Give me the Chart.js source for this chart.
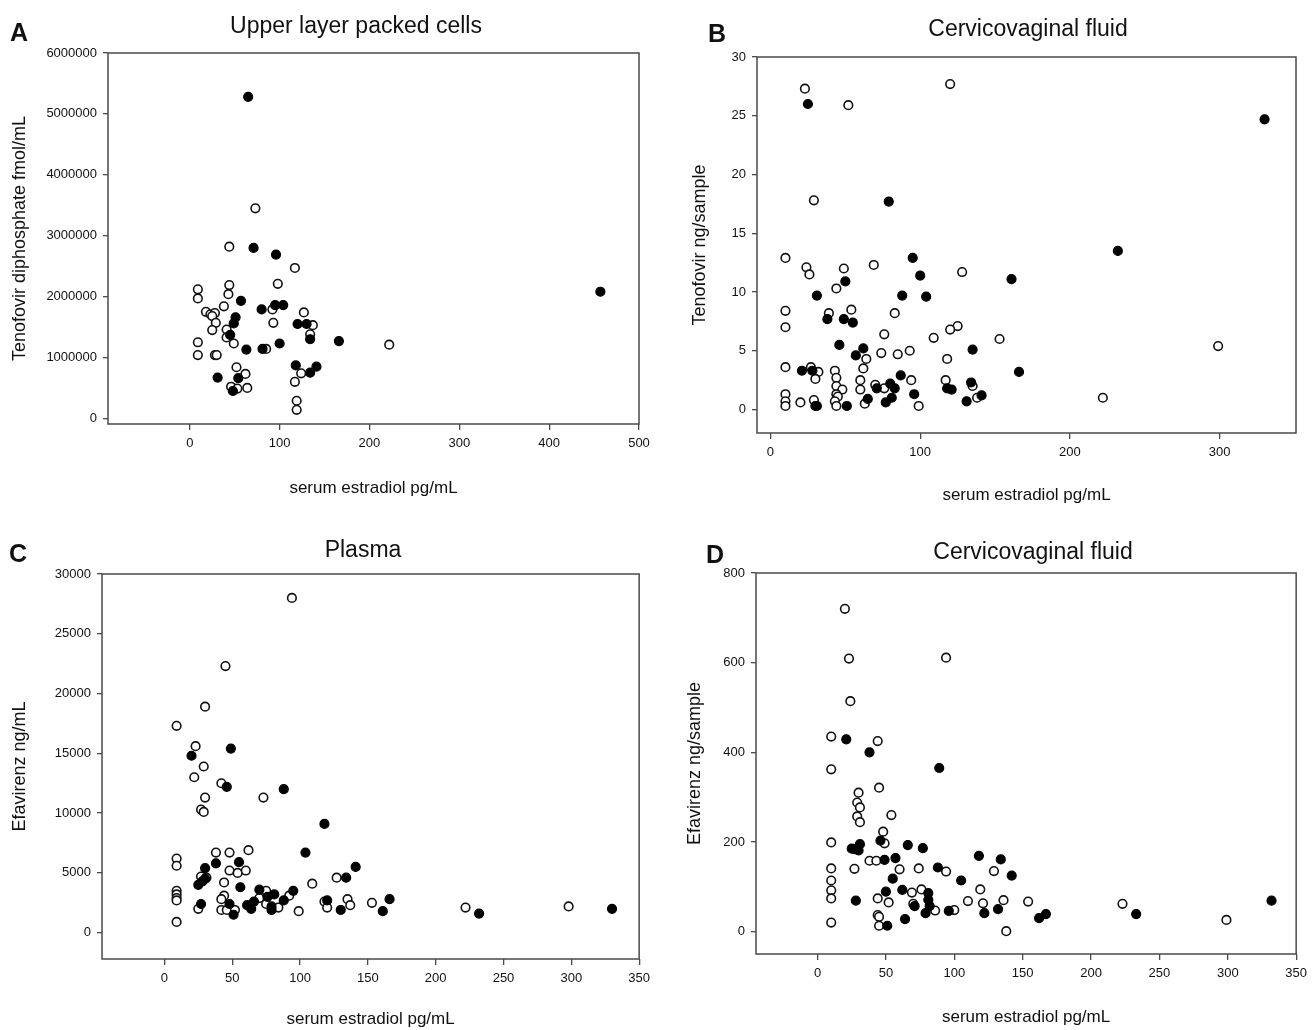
<!DOCTYPE html>
<html>
<head>
<meta charset="utf-8">
<script src="https://cdn.jsdelivr.net/npm/chart.js@4.4.1/dist/chart.umd.min.js"></script>
<style>
  html, body { margin: 0; padding: 0; background: #fff; }
  #wrap { position: relative; width: 1313px; height: 1030px; overflow: hidden; font-family: "Liberation Sans", Arial, sans-serif; }
  canvas { position: absolute; }
  .lbl { position: absolute; color: #111; white-space: nowrap; transform: translate(-50%, -50%); }
  .panel { font-weight: bold; font-size: 25px; }
  .ttl { font-size: 23px; }
</style>
</head>
<body>
<div id="wrap">
  <canvas id="cA" width="656" height="515" style="left:0px;top:0px;width:656px;height:515px"></canvas>
  <canvas id="cB" width="657" height="515" style="left:656px;top:0px;width:657px;height:515px"></canvas>
  <canvas id="cC" width="656" height="515" style="left:0px;top:515px;width:656px;height:515px"></canvas>
  <canvas id="cD" width="657" height="515" style="left:656px;top:515px;width:657px;height:515px"></canvas>
  <div class="lbl panel" style="left:19px;top:32px">A</div>
  <div class="lbl panel" style="left:717px;top:33px">B</div>
  <div class="lbl panel" style="left:18px;top:553px">C</div>
  <div class="lbl panel" style="left:715px;top:554px">D</div>
  <div class="lbl ttl" style="left:356px;top:25px">Upper layer packed cells</div>
  <div class="lbl ttl" style="left:1028px;top:28px">Cervicovaginal fluid</div>
  <div class="lbl ttl" style="left:363px;top:549px">Plasma</div>
  <div class="lbl ttl" style="left:1033px;top:551px">Cervicovaginal fluid</div>
</div>
<script>
// ---------- Panel A: Upper layer packed cells (Tenofovir diphosphate fmol/mL) ----------
const aFilledX = [65, 71, 96, 457, 57, 80, 95, 104, 51, 49, 120, 130, 45, 134, 166, 100, 63, 81, 118, 141, 134, 31, 54, 48];
const aFilledY = [5280000, 2800000, 2690000, 2080000, 1930000, 1790000, 1860000, 1860000, 1660000, 1560000, 1550000, 1550000, 1370000, 1300000, 1270000, 1230000, 1130000, 1140000, 870000, 850000, 750000, 670000, 660000, 450000];
const aOpenX = [73, 44, 117, 98, 44, 9, 43, 9, 38, 18, 23, 28, 25, 92, 127, 29, 93, 137, 41, 25, 134, 41, 49, 9, 222, 9, 28, 30, 85, 52, 62, 124, 117, 64, 46, 53, 119, 119];
const aOpenY = [3450000, 2820000, 2470000, 2210000, 2190000, 2120000, 2040000, 1970000, 1840000, 1750000, 1710000, 1730000, 1680000, 1790000, 1740000, 1570000, 1570000, 1530000, 1460000, 1450000, 1380000, 1330000, 1230000, 1250000, 1210000, 1040000, 1040000, 1040000, 1140000, 840000, 730000, 740000, 600000, 500000, 520000, 490000, 290000, 140000];
const aXTicks = [0, 100, 200, 300, 400, 500];
const aYTicks = [0, 1000000, 2000000, 3000000, 4000000, 5000000, 6000000];

// ---------- Panel B: Cervicovaginal fluid (Tenofovir ng/sample) ----------
const bFilledX = [25, 330, 79, 232, 95, 100, 161, 50, 31, 88, 104, 38, 49, 55, 46, 62, 135, 57, 21, 28, 166, 87, 80, 134, 83, 71, 118, 121, 96, 141, 65, 81, 131, 77, 30, 31, 51];
const bFilledY = [26.0, 24.7, 17.7, 13.5, 12.9, 11.4, 11.1, 10.9, 9.7, 9.7, 9.6, 7.7, 7.7, 7.4, 5.5, 5.2, 5.1, 4.6, 3.3, 3.3, 3.2, 2.9, 2.2, 2.3, 1.8, 1.8, 1.8, 1.7, 1.3, 1.2, 0.9, 1.0, 0.7, 0.6, 0.3, 0.3, 0.3];
const bOpenX = [23, 120, 52, 29, 10, 69, 24, 49, 26, 128, 44, 10, 54, 39, 83, 125, 120, 10, 76, 109, 153, 299, 93, 74, 85, 64, 118, 10, 27, 62, 32, 43, 30, 44, 60, 94, 117, 70, 44, 48, 60, 76, 135, 10, 44, 45, 222, 138, 10, 20, 29, 43, 63, 10, 44, 99];
const bOpenY = [27.3, 27.7, 25.9, 17.8, 12.9, 12.3, 12.1, 12.0, 11.5, 11.7, 10.3, 8.4, 8.5, 8.2, 8.2, 7.1, 6.8, 7.0, 6.4, 6.1, 6.0, 5.4, 5.0, 4.8, 4.7, 4.3, 4.3, 3.6, 3.6, 3.5, 3.2, 3.3, 2.6, 2.7, 2.5, 2.5, 2.5, 2.1, 2.0, 1.7, 1.7, 1.8, 2.0, 1.3, 1.3, 1.1, 1.0, 1.0, 0.7, 0.6, 0.8, 0.7, 0.5, 0.3, 0.3, 0.3];
const bXTicks = [0, 100, 200, 300];
const bYTicks = [0, 5, 10, 15, 20, 25, 30];

// ---------- Panel C: Plasma (Efavirenz ng/mL) ----------
const cFilledX = [49, 20, 46, 88, 118, 104, 38, 55, 141, 30, 134, 30, 28, 25, 56, 70, 95, 81, 76, 88, 166, 120, 66, 27, 48, 61, 79, 64, 79, 330, 130, 161, 51, 232];
const cFilledY = [15400, 14800, 12200, 12000, 9100, 6700, 5800, 5900, 5500, 5400, 4600, 4500, 4300, 4000, 3800, 3600, 3500, 3200, 3000, 2700, 2800, 2700, 2600, 2400, 2400, 2300, 2200, 2000, 1900, 2000, 1900, 1800, 1500, 1600];
const cOpenX = [94, 45, 30, 9, 23, 29, 22, 42, 30, 73, 27, 29, 62, 38, 48, 9, 9, 48, 54, 60, 27, 31, 127, 44, 109, 9, 9, 9, 9, 44, 42, 75, 70, 92, 135, 118, 153, 25, 42, 46, 52, 84, 99, 120, 137, 222, 298, 9, 75];
const cOpenY = [28000, 22300, 18900, 17300, 15600, 13900, 13000, 12500, 11300, 11300, 10300, 10100, 6900, 6700, 6700, 6200, 5600, 5200, 5000, 5200, 4700, 4600, 4600, 4200, 4100, 3500, 3200, 2900, 2700, 3100, 2800, 3500, 2900, 3100, 2800, 2600, 2500, 2000, 1900, 1900, 1900, 2100, 1800, 2100, 2300, 2100, 2200, 900, 2400];
const cXTicks = [0, 50, 100, 150, 200, 250, 300, 350];
const cYTicks = [0, 5000, 10000, 15000, 20000, 25000, 30000];

// ---------- Panel D: Cervicovaginal fluid (Efavirenz ng/sample) ----------
const dFilledX = [21, 38, 89, 46, 66, 31, 77, 25, 30, 118, 57, 49, 134, 88, 142, 55, 105, 62, 50, 81, 28, 332, 81, 71, 82, 132, 96, 79, 122, 167, 233, 64, 162, 51];
const dFilledY = [429, 400, 365, 203, 193, 195, 186, 185, 181, 169, 164, 160, 161, 143, 125, 118, 114, 93, 89, 86, 69, 69, 71, 57, 57, 50, 46, 41, 41, 39, 39, 28, 30, 13];
const dOpenX = [20, 23, 94, 24, 10, 44, 10, 45, 30, 29, 31, 54, 29, 31, 48, 10, 49, 27, 38, 43, 10, 27, 60, 74, 94, 129, 10, 10, 76, 119, 69, 10, 44, 52, 110, 136, 154, 121, 223, 70, 44, 45, 86, 100, 10, 45, 299, 138];
const dOpenY = [720, 609, 611, 514, 435, 425, 362, 321, 310, 288, 277, 260, 257, 244, 223, 199, 197, 184, 158, 158, 141, 140, 139, 141, 134, 135, 114, 92, 94, 94, 87, 74, 74, 65, 68, 70, 67, 63, 62, 62, 37, 33, 47, 48, 20, 13, 26, 1];
const dXTicks = [0, 50, 100, 150, 200, 250, 300, 350];
const dYTicks = [0, 200, 400, 600, 800];

const xTitle = 'serum estradiol pg/mL';

function pts(xs, ys) { return xs.map((x, i) => ({ x: x, y: ys[i] })); }

const framePlugin = {
  id: 'frame',
  beforeDatasetsDraw(chart) {
    const a = chart.chartArea, ctx = chart.ctx;
    ctx.save();
    ctx.strokeStyle = '#4a4a4a';
    ctx.lineWidth = 1.5;
    ctx.strokeRect(a.left, a.top, a.right - a.left, a.bottom - a.top);
    ctx.restore();
  }
};

const FONT = '"Liberation Sans", Arial, sans-serif';

function makeChart(id, c) {
  new Chart(document.getElementById(id), {
    type: 'scatter',
    data: {
      datasets: [
        { data: pts(c.fx, c.fy), pointRadius: 4.5, pointBackgroundColor: '#000', pointBorderColor: '#000', pointBorderWidth: 1.2, showLine: false },
        { data: pts(c.ox, c.oy), pointRadius: 4.3, pointBackgroundColor: '#fff', pointBorderColor: '#111', pointBorderWidth: 1.6, showLine: false }
      ]
    },
    options: {
      responsive: false,
      animation: false,
      devicePixelRatio: 1,
      layout: { padding: { top: c.padTop, right: c.padRight, left: 0, bottom: 0 } },
      plugins: { legend: { display: false }, tooltip: { enabled: false }, title: { display: false } },
      scales: {
        x: {
          type: 'linear', min: c.xMin, max: c.xMax,
          afterBuildTicks: s => { s.ticks = c.xTicks.map(v => ({ value: v })); },
          afterFit: s => { s.height = c.xAxisH; },
          grid: { drawOnChartArea: false, drawTicks: true, tickLength: 6, color: '#4a4a4a', lineWidth: 1.3 },
          border: { display: false },
          ticks: { padding: 6, color: '#111', maxRotation: 0, autoSkip: false, font: { family: FONT, size: 13 }, callback: v => String(v) },
          title: { display: true, text: xTitle, color: '#111', font: { family: FONT, size: 17 }, padding: { top: 0, bottom: c.xTitlePad } }
        },
        y: {
          type: 'linear', min: c.yMin, max: c.yMax,
          afterBuildTicks: s => { s.ticks = c.yTicks.map(v => ({ value: v })); },
          afterFit: s => { s.width = c.yAxisW; },
          grid: { drawOnChartArea: false, drawTicks: true, tickLength: 5, color: '#4a4a4a', lineWidth: 1.3 },
          border: { display: false },
          ticks: { padding: 6, color: '#111', autoSkip: false, font: { family: FONT, size: 13 }, callback: v => String(v) },
          title: { display: true, text: c.yTitle, color: '#111', font: { family: FONT, size: 18 }, padding: { top: c.yTitlePad, bottom: 0 } }
        }
      }
    },
    plugins: [framePlugin]
  });
}

makeChart('cA', {
  fx: aFilledX, fy: aFilledY, ox: aOpenX, oy: aOpenY,
  xMin: -91, xMax: 500, yMin: -92000, yMax: 6000000,
  xTicks: aXTicks, yTicks: aYTicks,
  padTop: 53, padRight: 17, yAxisW: 108, xAxisH: 91,
  yTitle: 'Tenofovir diphosphate fmol/mL', yTitlePad: 9, xTitlePad: 16
});
makeChart('cB', {
  fx: bFilledX, fy: bFilledY, ox: bOpenX, oy: bOpenY,
  xMin: -9, xMax: 351, yMin: -2, yMax: 30,
  xTicks: bXTicks, yTicks: bYTicks,
  padTop: 57, padRight: 17, yAxisW: 101, xAxisH: 82,
  yTitle: 'Tenofovir ng/sample', yTitlePad: 33, xTitlePad: 9
});
makeChart('cC', {
  fx: cFilledX, fy: cFilledY, ox: cOpenX, oy: cOpenY,
  xMin: -46, xMax: 350, yMin: -2200, yMax: 30000,
  xTicks: cXTicks, yTicks: cYTicks,
  padTop: 59, padRight: 8, yAxisW: 102, xAxisH: 71,
  yTitle: 'Efavirenz ng/mL', yTitlePad: 9, xTitlePad: 0
});
makeChart('cD', {
  fx: dFilledX, fy: dFilledY, ox: dOpenX, oy: dOpenY,
  xMin: -45, xMax: 350, yMin: -50, yMax: 800,
  xTicks: dXTicks, yTicks: dYTicks,
  padTop: 58, padRight: 12, yAxisW: 100, xAxisH: 76,
  yTitle: 'Efavirenz ng/sample', yTitlePad: 28, xTitlePad: 2
});
</script>
</body>
</html>
